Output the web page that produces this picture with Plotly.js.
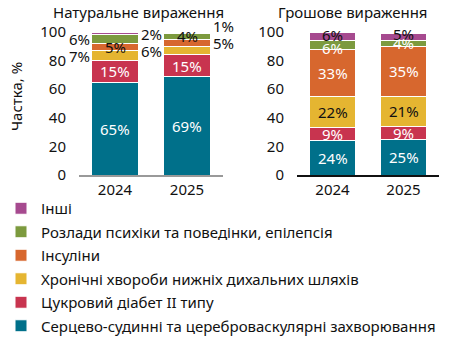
<!DOCTYPE html>
<html><head><meta charset="utf-8">
<script src="https://cdn.plot.ly/plotly-3.0.1.min.js"></script>
<style>html,body{margin:0;padding:0;background:#fff}#chart{width:449px;height:337px}</style>
</head><body><div id="chart"></div>
<script>
// ---- data ----
const years = ['2024', '2025'];
const categories = [
  'Серцево-судинні та цереброваскулярні захворювання',
  'Цукровий діабет II типу',
  'Хронічні хвороби нижніх дихальних шляхів',
  'Інсуліни',
  'Розлади психіки та поведінки, епілепсія',
  'Інші'
];
// Натуральне вираження (%)
const natCardio   = [65, 69];
const natDiabetes = [15, 15];
const natResp     = [7, 6];
const natInsulin  = [5, 5];
const natMental   = [6, 4];
const natOther    = [2, 1];
// Грошове вираження (%)
const monCardio   = [24, 25];
const monDiabetes = [9, 9];
const monResp     = [22, 21];
const monInsulin  = [33, 35];
const monMental   = [6, 4];
const monOther    = [6, 5];
const yTicks = [0, 20, 40, 60, 80, 100];

// ---- styles ----
const colors = ['#00708a', '#c8344f', '#e5b531', '#d7672e', '#7c9a3e', '#a64a8f'];
const FONT = 'Noto Sans, Open Sans, sans-serif';
// label placement per series & year: [mode, color, yshift]
const natLabelStyle = [
  [['in','#fff',0], ['in','#fff',0]],
  [['in','#fff',0], ['in','#fff',0]],
  [['left','#111',0], ['left','#111',0]],
  [['in','#111',0], ['right','#111',0]],
  [['left','#111',0], ['in','#111',0]],
  [['right','#111',-1], ['right','#111',7]]
];
const monLabelStyle = [
  [['in','#fff',0], ['in','#fff',0]],
  [['in','#fff',0], ['in','#fff',0]],
  [['in','#111',0], ['in','#111',0]],
  [['in','#fff',0], ['in','#fff',0]],
  [['in','#fff',-3], ['in','#fff',0]],
  [['in','#111',1], ['in','#111',3]]
];

const natSeries = [natCardio, natDiabetes, natResp, natInsulin, natMental, natOther];
const monSeries = [monCardio, monDiabetes, monResp, monInsulin, monMental, monOther];

const traces = [];
const annotations = [];
function addPanel(series, styles, xa, ya, showLegend) {
  const base = years.map(() => 0);
  series.forEach((vals, i) => {
    traces.push({
      type: 'bar', x: years, y: vals, xaxis: xa, yaxis: ya,
      name: categories[i], legendgroup: 'g' + i, showlegend: showLegend,
      legendrank: 100 - i,
      marker: {color: colors[i], line: {color: '#fff', width: 1}},
      textposition: 'none', hoverinfo: 'skip'
    });
    vals.forEach((v, j) => {
      const st = styles[i][j];
      const mid = base[j] + v / 2;
      const xs = st[0] === 'left' ? -36 : st[0] === 'right' ? 36 : 0;
      annotations.push({
        x: j, y: mid, xref: xa, yref: ya, text: v + '%',
        showarrow: false, xanchor: 'center', yanchor: 'middle',
        xshift: xs, yshift: st[2],
        font: {family: FONT, size: 15, color: st[1]}
      });
      base[j] += v;
    });
  });
}
addPanel(natSeries, natLabelStyle, 'x', 'y', true);
addPanel(monSeries, monLabelStyle, 'x2', 'y2', false);

const W = 449, H = 337;
const yDom = [1 - 175 / H, 1 - 32 / H];
const yaxisBase = {
  range: [0, 100], domain: yDom, tickvals: yTicks, ticks: '', showgrid: false,
  zeroline: false, showline: false, ticklabelstandoff: 12, fixedrange: true,
  tickfont: {family: FONT, size: 15, color: '#111'}
};
const xaxisBase = {
  type: 'category', range: [-0.5, 1.5], showgrid: false, zeroline: false,
  showline: true, linewidth: 1.5, ticks: '', fixedrange: true,
  tickfont: {family: FONT, size: 15, color: '#111'}
};

annotations.push(
  {x: 138 / W, y: 1 - 12 / H, xref: 'paper', yref: 'paper', text: 'Натуральне вираження',
   xanchor: 'center', yanchor: 'middle',
   showarrow: false, font: {family: FONT, size: 15, color: '#111'}},
  {x: 353 / W, y: 1 - 12 / H, xref: 'paper', yref: 'paper', text: 'Грошове вираження',
   xanchor: 'center', yanchor: 'middle',
   showarrow: false, font: {family: FONT, size: 15, color: '#111'}},
  {x: 16 / W, y: 1 - 97 / H, xref: 'paper', yref: 'paper', text: 'Частка, %', textangle: -90,
   xanchor: 'center', yanchor: 'middle',
   showarrow: false, font: {family: FONT, size: 15, color: '#111'}}
);

const layout = {
  width: W, height: H, margin: {l: 0, r: 0, t: 0, b: 0, autoexpand: false},
  paper_bgcolor: '#fff', plot_bgcolor: '#fff',
  barmode: 'stack', bargap: 0.35, showlegend: true,
  xaxis: Object.assign({}, xaxisBase, {domain: [79 / W, 223 / W], anchor: 'y', linecolor: '#999'}),
  yaxis: Object.assign({}, yaxisBase, {anchor: 'x'}),
  xaxis2: Object.assign({}, xaxisBase, {domain: [297 / W, 439 / W], anchor: 'y2', linecolor: '#111'}),
  yaxis2: Object.assign({}, yaxisBase, {anchor: 'x2'}),
  legend: {
    x: 1 / W, y: 1 - 192 / H, xanchor: 'left', yanchor: 'top',
    traceorder: 'grouped', tracegroupgap: 1,
    font: {family: FONT, size: 15, color: '#111'}, bgcolor: 'rgba(0,0,0,0)'
  },
  annotations: annotations
};
Plotly.newPlot('chart', traces, layout, {displayModeBar: false, staticPlot: true});
</script></body></html>
